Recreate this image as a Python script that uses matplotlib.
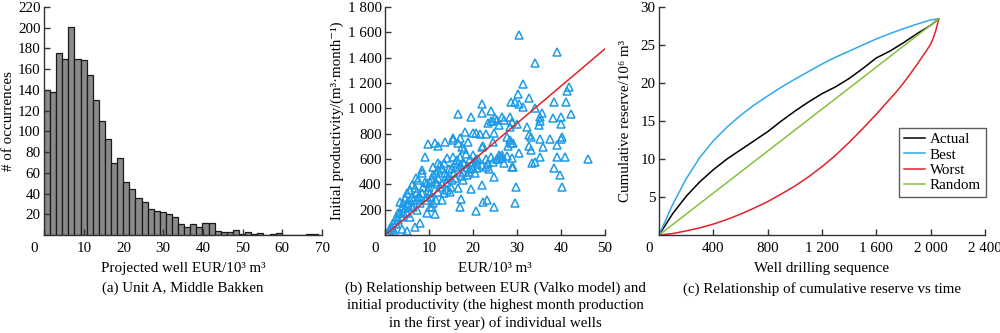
import numpy as np
import matplotlib
matplotlib.use("Agg")
import matplotlib.pyplot as plt
from matplotlib.transforms import ScaledTranslation

plt.rcParams['font.family'] = ['Liberation Serif', 'DejaVu Serif']
plt.rcParams['font.size'] = 10.8

# (a) histogram of projected well EUR, bin width ~1.535 (10^3 m3)
bin_width = 1.535
hist_counts = [140, 138, 176, 170, 201, 170, 169, 154, 130, 110,
               93, 70, 74, 51, 44, 36, 32, 25, 23, 22,
               20, 17, 11, 8, 11, 8, 12, 12, 4, 3,
               3, 5, 1, 3, 1, 2, 0, 1, 2, 0,
               0, 0, 0, 1, 1]

# (b) EUR vs initial productivity of individual wells
eur_pts = [30.5, 39.2, 34.2, 31.4, 30.3, 32.8, 41.3, 41.9, 38.5, 41.1,
           28.6, 29.5, 30.5, 31.3, 34.0, 22.0, 22.0, 24.0, 16.5, 19.5,
           35.6, 35.2, 38.1, 42.2, 40.0, 39.9, 35.2, 35.0, 26.7, 28.3,
           25.0, 25.4, 24.6, 23.5, 28.8, 28.4, 29.9, 32.2, 18.2, 19.9,
           20.7, 22.9, 24.8, 15.5, 17.0, 15.4, 13.6, 11.4, 12.0, 9.8,
           16.7, 17.4, 18.0, 18.9, 22.3, 22.1, 24.5, 27.8, 28.3, 28.6,
           29.2, 27.9, 32.8, 33.2, 32.8, 33.1, 35.2, 35.8, 37.5, 39.0,
           40.0, 40.3,
           9.1, 15.5, 14.0, 17.0, 19.3, 19.9, 20.1, 20.7, 17.8, 16.3,
           15.9, 15.2, 17.0, 18.6, 17.8, 24.0, 25.8, 26.5, 26.1, 27.7,
           26.7, 25.4, 27.0, 28.8, 30.5, 29.0, 28.8, 24.6, 23.3, 22.1,
           23.0, 23.6, 20.8, 20.1, 33.3, 34.2, 35.2, 38.3, 39.2, 40.8,
           46.2, 39.8, 40.2, 29.7, 29.5, 24.8, 24.8, 23.1, 22.3, 20.7,
           22.0, 19.5, 17.3, 17.0, 17.8, 16.5, 18.6, 20.5, 11.4, 10.6,
           9.5, 8.0, 6.8, 4.9, 3.8, 2.3, 1.5, 8.3, 8.3, 7.6,
           7.0, 8.7, 9.5, 10.2, 10.6, 11.0, 11.6, 12.1, 12.9, 13.3,
           12.1, 12.5, 11.0, 11.4, 10.2, 9.5, 9.3, 8.0, 7.2, 6.4,
           6.1, 5.7, 5.3, 4.9, 4.5, 4.2, 3.8, 3.4, 3.0, 2.7,
           2.3, 1.9, 1.5, 1.1, 0.8, 0.4, 3.4, 3.8, 3.0, 2.5,
           4.5, 5.1, 5.7, 6.4, 7.2, 8.0, 7.2, 6.8, 5.7, 6.1,
           12.5, 13.3, 14.0, 14.8, 14.0, 15.2, 14.4, 13.6, 12.1, 14.9,
           12.9, 10.2, 11.0, 11.7,
           4.0, 5.0, 6.0, 7.5, 8.5, 9.0, 10.0, 10.5, 12.0, 13.0,
           14.5, 16.0, 18.0, 19.0, 21.0, 23.0, 25.5, 26.0, 27.0, 24.0,
           21.5, 13.8, 16.2, 17.6, 19.4, 21.2, 11.8, 9.8, 15.6, 18.4]
ip_pts = [1581, 1441, 1357, 1194, 1115, 1078, 1141, 1165, 1054, 1049,
          1049, 1049, 1036, 1014, 1001, 1036, 967, 980, 954, 935,
          967, 935, 922, 954, 935, 877, 904, 870, 935, 935,
          922, 909, 904, 888, 896, 856, 877, 856, 817, 804,
          804, 798, 804, 764, 764, 751, 733, 725, 706, 719,
          725, 698, 680, 738, 706, 698, 738, 777, 751, 725,
          730, 704, 790, 772, 706, 672, 756, 698, 756, 711,
          756, 772,
          619, 619, 606, 619, 598, 580, 632, 598, 580, 593,
          567, 527, 553, 540, 501, 619, 632, 632, 619, 625,
          606, 598, 567, 606, 646, 540, 535, 580, 567, 553,
          535, 519, 527, 527, 567, 580, 619, 527, 619, 619,
          598, 474, 382, 382, 256, 456, 224, 277, 264, 190,
          395, 361, 282, 219, 435, 369, 474, 487, 163, 224,
          171, 97, 66, 34, 45, 18, 40, 514, 487, 435,
          448, 382, 414, 422, 440, 474, 487, 514, 527, 567,
          572, 553, 540, 422, 329, 303, 277, 250, 198, 277,
          303, 277, 237, 329, 290, 250, 211, 264, 171, 145,
          119, 92, 66, 53, 26, 13, 171, 145, 119, 87,
          211, 171, 145, 224, 277, 303, 343, 369, 356, 395,
          382, 329, 356, 343, 422, 435, 461, 487, 343, 382,
          277, 224, 250, 277,
          180, 250, 230, 300, 330, 420, 380, 300, 450, 400,
          520, 450, 560, 500, 560, 600, 600, 870, 910, 900,
          800, 470, 540, 470, 520, 600, 400, 350, 490, 640]
fit_eur = [0, 50]
fit_ip = [0, 1470]

# (c) cumulative reserve (10^6 m3) against drilling sequence
well_seq = [0, 100, 200, 300, 400, 500, 600, 700, 800, 900, 1000,
            1100, 1200, 1300, 1400, 1500, 1600, 1700, 1800, 1900, 2000, 2060]
res_actual = [0, 2.8, 5.1, 7.0, 8.6, 10.0, 11.2, 12.4, 13.6, 15.0, 16.3,
              17.5, 18.6, 19.5, 20.6, 21.9, 23.3, 24.2, 25.3, 26.5, 27.6, 28.45]
res_best = [0, 4.0, 7.4, 10.2, 12.4, 14.2, 15.75, 17.1, 18.3, 19.45, 20.5,
            21.5, 22.5, 23.4, 24.2, 25.0, 25.8, 26.5, 27.15, 27.75, 28.3, 28.45]
worst_seq = [0, 100, 200, 300, 400, 500, 600, 700, 800, 900, 1000,
             1100, 1200, 1300, 1400, 1500, 1600, 1700, 1750, 1800, 1850,
             1900, 1950, 2000, 2020, 2040, 2060]
res_worst = [0, 0.2, 0.55, 0.95, 1.45, 2.05, 2.75, 3.55, 4.4, 5.4, 6.45,
             7.65, 9.0, 10.5, 12.2, 14.0, 15.9, 17.9, 18.9, 20.0, 21.2,
             22.45, 23.75, 25.1, 25.95, 27.05, 28.45]
random_seq = [0, 2060]
res_random = [0, 28.45]

blue = '#2fa8ee'
tri_blue = '#1d9be8'
red = '#e0222a'
green = '#86c13f'

fig = plt.figure(figsize=(10, 3.33), dpi=100)
ax_a = fig.add_axes([0.044, 0.294, 0.278, 0.685])
ax_b = fig.add_axes([0.385, 0.294, 0.220, 0.685])
ax_c = fig.add_axes([0.659, 0.294, 0.326, 0.685])


def style_axes(ax):
    for s in ['top', 'right']:
        ax.spines[s].set_visible(False)
    for s in ['left', 'bottom']:
        ax.spines[s].set_color('#333333')
        ax.spines[s].set_linewidth(1.0)
    ax.tick_params(direction='in', length=4, width=1.0, colors='#333333',
                   labelcolor='black', labelsize=10.8)
    ax.tick_params(axis='y', pad=2.5)
    ax.tick_params(axis='x', pad=5)


def corner_zero(ax):
    # the origin label sits left of the corner, shared by both axes
    lab = ax.get_xticklabels()[0]
    lab.set_transform(lab.get_transform() +
                      ScaledTranslation(-0.10, 0, fig.dpi_scale_trans))


def place_labels(ax, ylab_x):
    ax.xaxis.set_label_coords(0.5, -0.12)
    ax.yaxis.set_label_coords(ylab_x, 0.5)


# (a)
edges = np.arange(len(hist_counts) + 1) * bin_width
ax_a.bar(edges[:-1], hist_counts, width=bin_width, align='edge',
         color='#8a8a8a', edgecolor='#1a1a1a', linewidth=0.9)
style_axes(ax_a)
ax_a.set_xlim(0, 70)
ax_a.set_ylim(0, 220)
ax_a.set_xticks(np.arange(0, 71, 10))
ax_a.set_yticks(np.arange(20, 221, 20))
corner_zero(ax_a)
ax_a.set_xlabel('Projected well EUR/10³ m³')
ax_a.set_ylabel('# of occurrences', va='center')
place_labels(ax_a, -0.129)
ax_a.text(0.5, -0.205, '(a) Unit A, Middle Bakken', transform=ax_a.transAxes,
          ha='center', va='top')

# (b)
ax_b.plot(eur_pts, ip_pts, linestyle='none', marker='^', markersize=6,
          markerfacecolor='none', markeredgecolor=tri_blue, markeredgewidth=1.1)
ax_b.plot(fit_eur, fit_ip, color=red, linewidth=1.1)
style_axes(ax_b)
ax_b.set_xlim(0, 50)
ax_b.set_ylim(0, 1800)
ax_b.set_xticks(np.arange(0, 51, 10))
ax_b.set_yticks(np.arange(200, 1801, 200))
ax_b.set_yticklabels(['200', '400', '600', '800', '1 000', '1 200',
                      '1 400', '1 600', '1 800'])
corner_zero(ax_b)
ax_b.set_xlabel('EUR/10³ m³')
ax_b.set_ylabel('Initial productivity/(m³·month⁻¹)', va='center')
place_labels(ax_b, -0.218)
ax_b.text(0.5, -0.205,
          '(b) Relationship between EUR (Valko model) and\n'
          'initial productivity (the highest month production\n'
          'in the first year) of individual wells',
          transform=ax_b.transAxes, ha='center', va='top', linespacing=1.32)

# (c)
ax_c.plot(well_seq, res_actual, color='black', linewidth=1.1, label='Actual')
ax_c.plot(well_seq, res_best, color=blue, linewidth=1.1, label='Best')
ax_c.plot(worst_seq, res_worst, color=red, linewidth=1.1, label='Worst')
ax_c.plot(random_seq, res_random, color=green, linewidth=1.1, label='Random')
style_axes(ax_c)
ax_c.set_xlim(0, 2400)
ax_c.set_ylim(0, 30)
ax_c.set_xticks(np.arange(0, 2401, 400))
ax_c.set_xticklabels(['0', '400', '800', '1 200', '1 600', '2 000', '2 400'])
ax_c.set_yticks(np.arange(5, 31, 5))
corner_zero(ax_c)
ax_c.set_xlabel('Well drilling sequence')
ax_c.set_ylabel('Cumulative reserve/10⁶ m³', va='center')
place_labels(ax_c, -0.104)
leg = ax_c.legend(loc='upper left', bbox_to_anchor=(0.736, 0.469),
                  borderaxespad=0, fancybox=False, edgecolor='#333333',
                  handlelength=1.4, handletextpad=0.35, labelspacing=0.12,
                  borderpad=0.32, fontsize=10.8)
leg.get_frame().set_linewidth(1.0)
ax_c.text(0.5, -0.205, '(c) Relationship of cumulative reserve vs time',
          transform=ax_c.transAxes, ha='center', va='top')

fig.savefig('out.png', dpi=100)
